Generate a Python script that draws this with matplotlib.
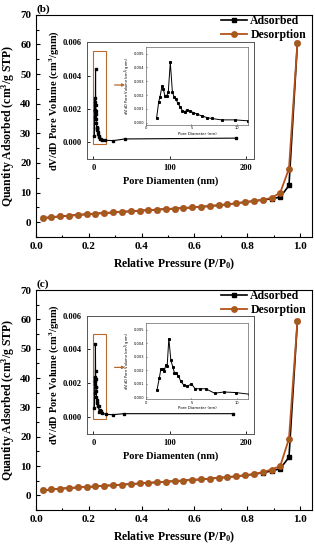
"""Nitrogen isotherms with pore size distribution insets, panels (b) and (c)."""

import matplotlib

matplotlib.use("Agg")

import matplotlib.pyplot as plt
from matplotlib.patches import Rectangle
from matplotlib.ticker import MultipleLocator

SERIF = ["Liberation Serif", "DejaVu Serif"]
plt.rcParams["font.family"] = SERIF
plt.rcParams["font.weight"] = "bold"
plt.rcParams["axes.labelweight"] = "bold"
plt.rcParams["mathtext.fontset"] = "custom"
plt.rcParams["mathtext.rm"] = "Liberation Serif:bold"
plt.rcParams["mathtext.bf"] = "Liberation Serif:bold"

ADS_COLOR = "#000000"
DES_COLOR = "#B5521B"
DES_FACE = "#98611E"
BOX_COLOR = "#B86A2C"

# relative pressure P/P0
pressure = [0.025, 0.058, 0.092, 0.125, 0.158, 0.192, 0.225, 0.258, 0.292,
            0.325, 0.358, 0.392, 0.425, 0.458, 0.492, 0.525, 0.558, 0.592,
            0.625, 0.658, 0.692, 0.725, 0.758, 0.792, 0.825, 0.858, 0.892,
            0.925, 0.958, 0.990]

# panel (b) quantity adsorbed, cm3/g STP
ads_b = [1.4, 1.7, 2.0, 2.2, 2.45, 2.7, 2.9, 3.1, 3.3, 3.5, 3.7, 3.9, 4.1,
         4.25, 4.45, 4.6, 4.8, 5.0, 5.2, 5.45, 5.75, 6.05, 6.4, 6.8, 7.15,
         7.5, 7.9, 8.5, 12.4, 60.6]
des_b = [1.4, 1.7, 2.0, 2.2, 2.45, 2.7, 2.9, 3.1, 3.3, 3.5, 3.7, 3.9, 4.1,
         4.25, 4.45, 4.6, 4.8, 5.0, 5.2, 5.45, 5.75, 6.05, 6.4, 6.8, 7.2,
         7.6, 8.2, 10.0, 18.1, 60.6]

# panel (c)
ads_c = [1.7, 2.0, 2.25, 2.5, 2.7, 2.85, 3.05, 3.25, 3.45, 3.65, 3.85,
         4.05, 4.25, 4.45, 4.65, 4.85, 5.05, 5.25, 5.45, 5.7, 5.95, 6.2,
         6.5, 6.85, 7.2, 7.7, 8.3, 9.1, 13.0, 59.5]
des_c = [1.7, 2.0, 2.25, 2.5, 2.7, 2.85, 3.05, 3.25, 3.45, 3.65, 3.85,
         4.05, 4.25, 4.45, 4.65, 4.85, 5.05, 5.25, 5.45, 5.7, 5.95, 6.2,
         6.5, 6.85, 7.25, 7.9, 8.8, 10.0, 19.3, 59.5]

# pore size distribution, pore diameter (nm) and dV/dD (cm3/g nm)
pore_d_b = [1.17, 1.4, 1.54, 1.76, 1.9, 2.09, 2.27, 2.45, 2.67, 2.9, 3.08,
            3.3, 3.5, 3.74, 4.0, 4.29, 4.5, 4.8, 5.2, 5.6, 6.1, 6.7, 7.2,
            8.3, 9.8, 11.2, 15.3, 26.0, 41.0, 187.0]
psd_b = [0.00038, 0.00152, 0.00188, 0.00266, 0.00243, 0.00193, 0.00193,
         0.00224, 0.00438, 0.00224, 0.00188, 0.0017, 0.0014, 0.00117,
         0.00088, 0.0008, 0.00093, 0.00085, 0.00074, 0.00064, 0.0005,
         0.00038, 0.00031, 0.00021, 0.00021, 0.00014, 0.00012, 0.0001,
         0.0002, 0.00025]

pore_d_c = [1.2, 1.46, 1.64, 1.86, 2.0, 2.19, 2.33, 2.51, 2.73, 2.95, 3.13,
            3.35, 3.57, 3.83, 4.19, 4.55, 5.0, 5.4, 5.9, 6.56, 7.54, 8.56,
            9.84, 11.3, 16.7, 25.0, 40.0, 182.6]
psd_c = [0.00051, 0.00141, 0.00211, 0.00211, 0.00194, 0.0024, 0.00234,
         0.00434, 0.00275, 0.00223, 0.0018, 0.00176, 0.00157, 0.00117,
         0.00087, 0.00082, 0.00099, 0.00063, 0.00063, 0.00063, 0.0003,
         0.00039, 0.00035, 0.00023, 0.00016, 0.00014, 0.0002, 0.0002]

PANELS = [
    {"tag": "(b)", "ads": ads_b, "des": des_b, "d": pore_d_b, "psd": psd_b,
     "main": [0.1143, 0.569, 0.876, 0.404],
     "inset": [0.275, 0.711, 0.531, 0.212],
     "nested": [0.4635, 0.773, 0.3235, 0.142],
     "arrow_y": 0.00344, "box_top": 0.0055},
    {"tag": "(c)", "ads": ads_c, "des": des_c, "d": pore_d_c, "psd": psd_c,
     "main": [0.1143, 0.0727, 0.876, 0.40],
     "inset": [0.275, 0.211, 0.531, 0.215],
     "nested": [0.4635, 0.274, 0.3235, 0.139],
     "arrow_y": 0.00294, "box_top": 0.0049},
]


def bold_ticks(ax):
    for label in ax.get_xticklabels() + ax.get_yticklabels():
        label.set_fontweight("bold")


def draw_main(fig, panel):
    ax = fig.add_axes(panel["main"])
    ax.plot(pressure, panel["ads"], color=ADS_COLOR, marker="s", ms=3.4,
            lw=1.2, label="Adsorbed", zorder=3)
    ax.plot(pressure, panel["des"], color=DES_COLOR, marker="o", ms=3.9,
            mfc=DES_FACE, mec=DES_COLOR, lw=1.3, label="Desorption", zorder=4)
    ax.set_xlim(0, 1.045)
    ax.set_ylim(-5, 70)
    ax.xaxis.set_major_locator(MultipleLocator(0.2))
    ax.xaxis.set_minor_locator(MultipleLocator(0.1))
    ax.yaxis.set_major_locator(MultipleLocator(10))
    ax.yaxis.set_minor_locator(MultipleLocator(5))
    ax.xaxis.set_major_formatter(lambda v, pos: f"{v:.1f}")
    ax.tick_params(which="both", direction="in", labelsize=8, width=0.8)
    ax.tick_params(which="major", length=3)
    ax.tick_params(which="minor", length=1.8)
    bold_ticks(ax)
    for spine in ax.spines.values():
        spine.set_linewidth(0.8)
    ax.set_xlabel(r"Relative Pressure (P/P$\mathregular{_0}$)", fontsize=8.5,
                  fontweight="bold", labelpad=4)
    ax.set_ylabel(r"Quantity Adsorbed (cm$\mathregular{^3}$/g STP)",
                  fontsize=8.5, fontweight="bold", labelpad=2)
    ax.legend(loc="upper right", bbox_to_anchor=(1.0, 1.025), frameon=False,
              prop={"family": SERIF, "weight": "bold", "size": 8.5},
              handlelength=2.2, handletextpad=0.3, borderaxespad=0.1,
              labelspacing=0.15)
    ax.text(0.0, 1.005, panel["tag"], transform=ax.transAxes, fontsize=8,
            fontweight="bold", ha="left", va="bottom")
    return ax


def draw_inset(fig, panel):
    ax = fig.add_axes(panel["inset"])
    ax.plot(panel["d"], panel["psd"], color="black", marker="s", ms=1.8,
            lw=0.8)
    ax.set_xlim(-9, 210)
    ax.set_ylim(-0.001, 0.006)
    ax.xaxis.set_major_locator(MultipleLocator(100))
    ax.yaxis.set_major_locator(MultipleLocator(0.002))
    ax.yaxis.set_major_formatter(lambda v, pos: f"{v:.3f}")
    ax.tick_params(direction="in", labelsize=6, length=2, width=0.6)
    bold_ticks(ax)
    for spine in ax.spines.values():
        spine.set_linewidth(0.7)
        spine.set_color("#555555")
    ax.set_xlabel("Pore Diamenten (nm)", fontsize=7.5, fontweight="bold",
                  labelpad=3)
    ax.set_ylabel(r"dV/dD Pore Volume (cm$\mathregular{^3}$/gnm)",
                  fontsize=7.5, fontweight="bold", labelpad=1.5)
    ax.add_patch(Rectangle((0, -0.00012), 16.5, panel["box_top"] + 0.00012,
                           fill=False, edgecolor=BOX_COLOR, lw=0.8))
    ax.annotate("", xy=(45, panel["arrow_y"]), xytext=(24, panel["arrow_y"]),
                arrowprops=dict(arrowstyle="-|>", color=BOX_COLOR, lw=0.9,
                                mutation_scale=4))


def draw_nested(fig, panel):
    ax = fig.add_axes(panel["nested"])
    ax.plot(panel["d"], panel["psd"], color="black", marker="s", ms=1.2,
            lw=0.7)
    ax.set_xlim(0, 11.2)
    ax.set_ylim(-0.00015, 0.0055)
    ax.xaxis.set_major_locator(MultipleLocator(5))
    ax.yaxis.set_major_locator(MultipleLocator(0.001))
    ax.yaxis.set_major_formatter(lambda v, pos: f"{v:.3f}")
    ax.tick_params(direction="in", labelsize=2.6, length=1, width=0.4,
                   pad=1)
    for label in ax.get_xticklabels() + ax.get_yticklabels():
        label.set_fontweight("normal")
        label.set_family("DejaVu Sans")
    for spine in ax.spines.values():
        spine.set_linewidth(0.5)
        spine.set_color("#666666")
    ax.set_xlabel("Pore Diameter (nm)", fontsize=2.8, labelpad=1,
                  fontweight="normal", family="DejaVu Sans")
    ax.set_ylabel(r"dV/dD Pore Volume (cm$^3$/g nm)", fontsize=2.6,
                  labelpad=1, fontweight="normal", family="DejaVu Sans")


def main() -> None:
    fig = plt.figure(figsize=(3.15, 5.5), dpi=100)
    for panel in PANELS:
        draw_main(fig, panel)
        draw_inset(fig, panel)
        draw_nested(fig, panel)
    fig.savefig("out.png", dpi=100)
    plt.close(fig)


if __name__ == "__main__":
    main()
